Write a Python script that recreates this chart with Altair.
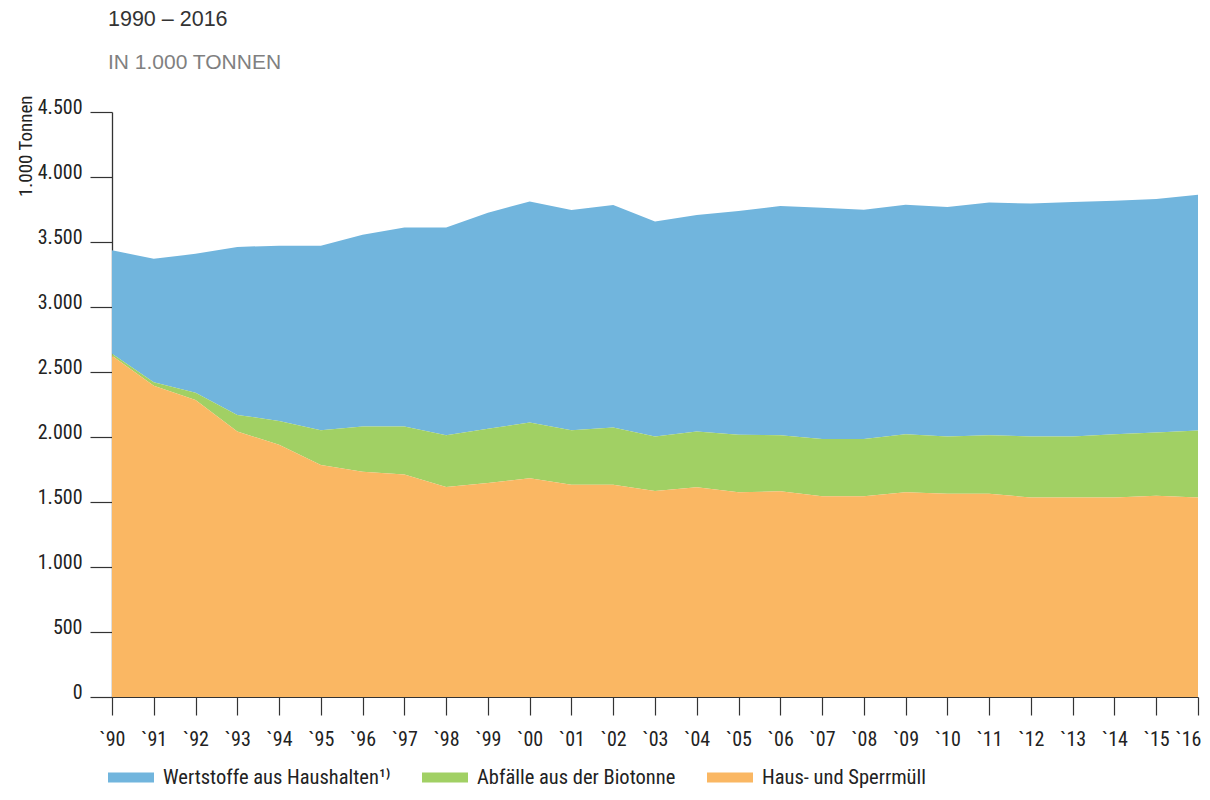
import altair as alt
import pandas as pd

years = list(range(1990, 2017))

haus = [2625, 2395, 2285, 2042, 1940, 1784, 1733, 1712, 1615, 1646, 1682, 1633, 1633,
        1585, 1613, 1575, 1582, 1544, 1544, 1575, 1564, 1564, 1534, 1534, 1534, 1549, 1534]
bio = [16, 26, 56, 128, 184, 268, 348, 369, 399, 417, 429, 419, 440,
       419, 429, 442, 432, 440, 440, 447, 440, 450, 470, 470, 488, 486, 516]
wert = [795, 950, 1068, 1292, 1348, 1420, 1474, 1531, 1598, 1662, 1701, 1694, 1711,
        1654, 1665, 1721, 1762, 1780, 1764, 1765, 1765, 1790, 1792, 1803, 1795, 1796, 1814]

categories = ["Wertstoffe aus Haushalten¹⁾", "Abfälle aus der Biotonne", "Haus- und Sperrmüll"]
colors = ["#71B5DD", "#A1D064", "#FAB763"]
stack_rank = [2, 1, 0]
y_ticks = [0, 500, 1000, 1500, 2000, 2500, 3000, 3500, 4000, 4500]

title_line = "1990 – 2016"
subtitle_line = "IN 1.000 TONNEN"
y_title = "1.000 Tonnen"

rows = []
for cat, rank, series in zip(categories, stack_rank, [wert, bio, haus]):
    for yr, v in zip(years, series):
        rows.append({"year": yr, "category": cat, "rank": rank, "value": v})
df = pd.DataFrame(rows)

NARROW = "Liberation Sans Narrow, Roboto Condensed, Arial Narrow, Liberation Sans, sans-serif"

areas = alt.Chart(df).mark_area(interpolate="linear").encode(
    x=alt.X("year:Q",
            scale=alt.Scale(domain=[1990, 2016], nice=False, zero=False),
            axis=alt.Axis(values=years, title=None,
                          labelExpr="'`' + slice(toString(datum.value), 2)",
                          tickSize=18, labelPadding=14, labelFontSize=20,
                          labelFont=NARROW, labelColor="#222", tickColor="#333",
                          domainColor="#333", domainWidth=1.2, tickWidth=1.2,
                          labelOffset={"condition": {"test": "datum.value == 2016", "value": -10},
                                       "value": 0},
                          labelFlush=False, labelOverlap=False, grid=False)),
    y=alt.Y("value:Q", stack="zero",
            scale=alt.Scale(domain=[0, 4500], nice=False),
            axis=alt.Axis(values=y_ticks, title=y_title,
                          labelExpr="replace(format(datum.value, ',d'), ',', '.')",
                          tickSize=22, labelPadding=8, labelFontSize=20,
                          labelBaseline="alphabetic", labelOffset=1,
                          labelFont=NARROW, labelColor="#222", tickColor="#333",
                          domainColor="#333", domainWidth=1.3, tickWidth=1.2,
                          titleFont=NARROW, titleFontSize=19, titleFontWeight="normal",
                          titleColor="#222", titleAngle=-90, titleAlign="right",
                          titleBaseline="middle", titleX=-87, titleY=-17,
                          grid=False)),
    color=alt.Color("category:N",
                    scale=alt.Scale(domain=categories, range=colors),
                    legend=alt.Legend(orient="none", direction="horizontal",
                                      legendX=7.5, legendY=654, title=None,
                                      symbolType="M-2,-0.43H2V0.43H-2Z",
                                      symbolSize=529, symbolStrokeWidth=0,
                                      symbolOpacity=1,
                                      labelFont=NARROW, labelFontSize=20.5,
                                      labelColor="#222", labelOffset=20.5,
                                      labelLimit=400,
                                      columnPadding=31, padding=0)),
    order=alt.Order("rank:Q", sort="ascending"),
)

t1 = alt.Chart(pd.DataFrame({"t": [title_line]})).mark_text(
    align="left", baseline="alphabetic", fontSize=21.5, font="Liberation Sans, Arial, sans-serif",
    color="#333").encode(x=alt.value(-4), y=alt.value(-86), text="t:N")
t2 = alt.Chart(pd.DataFrame({"t": [subtitle_line]})).mark_text(
    align="left", baseline="alphabetic", fontSize=21, font="Liberation Sans, Arial, sans-serif",
    color="#808080").encode(x=alt.value(-4), y=alt.value(-43), text="t:N")

chart = alt.layer(areas, t1, t2).properties(
    width=1086, height=585,
    autosize=alt.AutoSizeParams(type="none"),
    padding={"left": 104, "top": 104, "right": 4, "bottom": 91},
    background="white",
).configure_view(stroke=None)

chart.save("out.html", embed_options={"renderer": "svg", "actions": False})
